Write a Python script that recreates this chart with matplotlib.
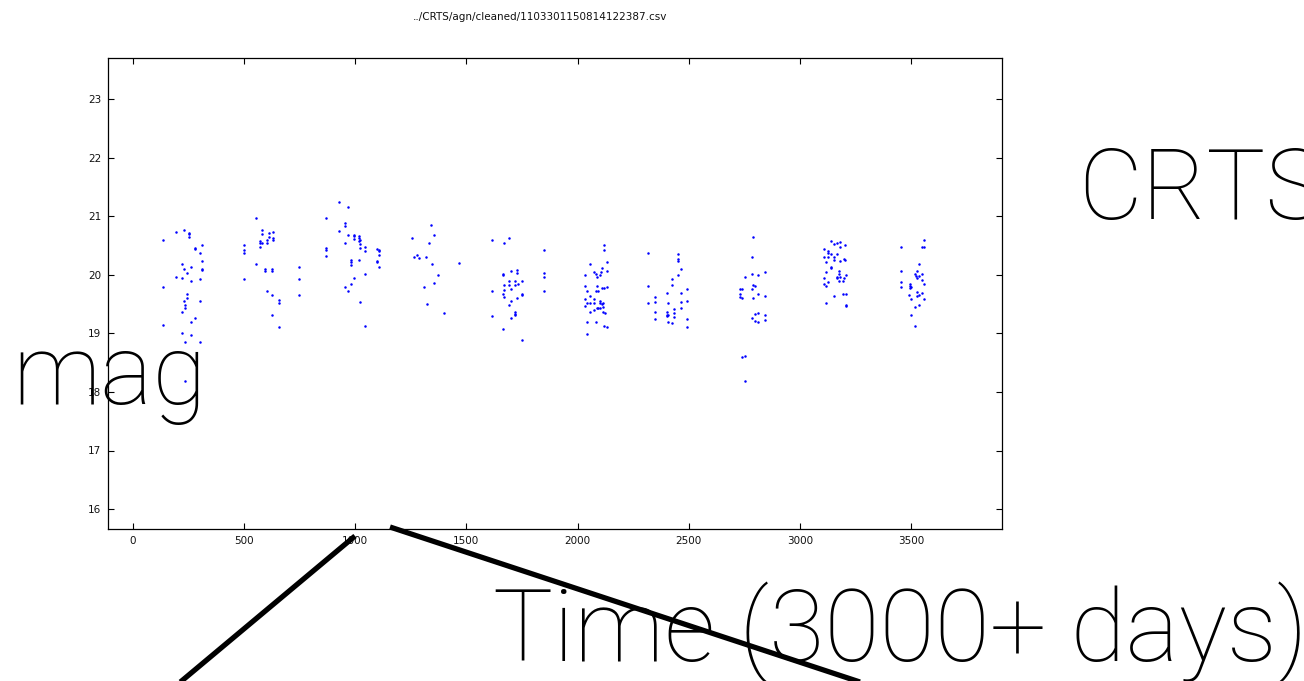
import numpy as np
import matplotlib.pyplot as plt
from matplotlib.lines import Line2D

s1_t = [136, 193, 228, 252, 252, 252, 278, 278, 309, 303, 309, 220, 260, 228, 309, 309, 244, 193, 220, 260,
        303, 136, 244, 244, 228, 303, 234, 234, 220, 278, 260, 136, 220, 260, 234, 303, 234]
s1_m = [20.60, 20.73, 20.76, 20.72, 20.69, 20.64, 20.45, 20.44, 20.51, 20.37, 20.24, 20.19, 20.13, 20.09, 20.10, 20.08,
        20.03, 19.96, 19.94, 19.89, 19.93, 19.79, 19.68, 19.60, 19.56, 19.56, 19.49, 19.43, 19.36, 19.27, 19.19, 19.14,
        19.00, 18.98, 18.85, 18.86, 18.19]

s2_t = [552, 498, 498, 498, 498, 552, 579, 579, 612, 631, 612, 631, 631, 604, 601, 570, 570, 579, 571, 595, 595, 625,
        625, 601, 625, 657, 657, 625, 657, 748, 748, 748]
s2_m = [20.97, 20.51, 20.42, 20.37, 19.93, 20.18, 20.76, 20.70, 20.71, 20.73, 20.65, 20.63, 20.60, 20.59, 20.55, 20.58,
        20.55, 20.55, 20.48, 20.10, 20.06, 20.09, 20.06, 19.72, 19.66, 19.57, 19.51, 19.31, 19.11, 20.13, 19.93, 19.66]

s3_t = [927, 966, 869, 954, 954, 927, 966, 994, 994, 1017, 1017, 994, 1022, 1017, 954, 1022, 1042, 1022, 1042, 869,
        869, 869, 1017, 979, 979, 979, 1098, 1107, 1107, 1107, 1098, 1098, 1107, 1042, 994, 979, 954, 966, 1022, 1042]
s3_m = [21.24, 21.16, 20.97, 20.88, 20.84, 20.74, 20.68, 20.68, 20.66, 20.66, 20.63, 20.61, 20.60, 20.58, 20.55, 20.53,
        20.47, 20.45, 20.40, 20.46, 20.43, 20.32, 20.26, 20.25, 20.21, 20.17, 20.44, 20.42, 20.40, 20.34, 20.23, 20.21,
        20.14, 20.01, 19.94, 19.84, 19.79, 19.72, 19.53, 19.12]

s4_t = [1339, 1353, 1256, 1331, 1265, 1279, 1288, 1318, 1345, 1466, 1373, 1353, 1309, 1322, 1399]
s4_m = [20.85, 20.68, 20.62, 20.55, 20.31, 20.34, 20.29, 20.31, 20.18, 20.20, 19.99, 19.86, 19.79, 19.50, 19.35]

s5_t = [1616, 1670, 1691, 1663, 1663, 1699, 1729, 1729, 1691, 1718, 1748, 1670, 1691, 1718, 1730, 1616, 1670, 1699,
        1663, 1670, 1748, 1748, 1729, 1699, 1691, 1718, 1718, 1718, 1616, 1699, 1663, 1748, 1847, 1847, 1847, 1847]
s5_m = [20.59, 20.54, 20.63, 20.02, 20.00, 20.07, 20.08, 20.03, 19.90, 19.89, 19.89, 19.82, 19.82, 19.83, 19.85, 19.72,
        19.74, 19.76, 19.68, 19.62, 19.68, 19.65, 19.60, 19.55, 19.48, 19.36, 19.33, 19.31, 19.29, 19.26, 19.08, 18.88,
        20.42, 20.03, 19.96, 19.73]

s6_t = [2119, 2119, 2133, 2054, 2108, 2075, 2084, 2106, 2133, 2101, 2033, 2088, 2033, 2088, 2110, 2117, 2133, 2043,
        2084, 2090, 2054, 2033, 2075, 2101, 2043, 2054, 2075, 2101, 2108, 2115, 2033, 2087, 2093, 2101, 2115, 2075,
        2054, 2115, 2122, 2043, 2083, 2119, 2133, 2043]
s6_m = [20.51, 20.42, 20.22, 20.19, 20.11, 20.05, 20.02, 20.05, 20.06, 20.00, 20.00, 19.96, 19.80, 19.81, 19.77, 19.78,
        19.79, 19.73, 19.72, 19.72, 19.64, 19.59, 19.59, 19.55, 19.52, 19.52, 19.52, 19.52, 19.50, 19.52, 19.46, 19.44,
        19.43, 19.44, 19.45, 19.40, 19.37, 19.36, 19.34, 19.20, 19.20, 19.12, 19.11, 18.99]

s7_t = [2316, 2316, 2316, 2451, 2451, 2451, 2466, 2451, 2426, 2426, 2491, 2401, 2466, 2348, 2348, 2408, 2466, 2491,
        2466, 2435, 2348, 2401, 2435, 2401, 2408, 2401, 2435, 2348, 2491, 2408, 2426, 2491]
s7_m = [20.37, 19.80, 19.52, 20.35, 20.27, 20.24, 20.10, 19.99, 19.92, 19.82, 19.75, 19.69, 19.69, 19.62, 19.54, 19.52,
        19.54, 19.55, 19.44, 19.42, 19.37, 19.36, 19.34, 19.32, 19.32, 19.29, 19.28, 19.24, 19.25, 19.19, 19.18, 19.10]

s8_t = [2790, 2784, 2751, 2784, 2813, 2844, 2790, 2796, 2730, 2739, 2784, 2730, 2730, 2739, 2790, 2813, 2844, 2796,
        2813, 2784, 2844, 2796, 2813, 2844, 2738, 2751, 2751]
s8_m = [20.64, 20.30, 19.97, 20.02, 20.00, 20.04, 19.83, 19.81, 19.75, 19.75, 19.76, 19.67, 19.62, 19.61, 19.61, 19.68,
        19.64, 19.33, 19.34, 19.27, 19.31, 19.21, 19.19, 19.23, 18.59, 18.61, 18.18]

s9_t = [3138, 3152, 3165, 3181, 3203, 3181, 3108, 3125, 3125, 3138, 3165, 3108, 3125, 3152, 3152, 3181, 3197, 3203,
        3117, 3138, 3138, 3117, 3176, 3176, 3208, 3165, 3165, 3181, 3197, 3108, 3192, 3176, 3108, 3125, 3117, 3195,
        3208, 3152, 3117, 3208, 3208]
s9_m = [20.58, 20.53, 20.55, 20.56, 20.51, 20.48, 20.44, 20.41, 20.37, 20.35, 20.35, 20.31, 20.30, 20.31, 20.26, 20.24,
        20.27, 20.26, 20.22, 20.14, 20.12, 20.05, 20.06, 20.01, 20.00, 19.96, 19.95, 19.96, 19.95, 19.94, 19.90, 19.89,
        19.85, 19.87, 19.81, 19.67, 19.67, 19.64, 19.51, 19.49, 19.47]

s10_t = [3557, 3549, 3557, 3456, 3535, 3456, 3528, 3517, 3521, 3535, 3549, 3528, 3549, 3456, 3495, 3495, 3501, 3495,
         3558, 3456, 3528, 3535, 3528, 3549, 3490, 3498, 3557, 3535, 3517, 3498, 3517]
s10_m = [20.60, 20.47, 20.47, 20.47, 20.19, 20.06, 20.07, 20.01, 19.98, 19.98, 20.01, 19.94, 19.91, 19.87, 19.85, 19.81,
         19.79, 19.78, 19.84, 19.79, 19.70, 19.66, 19.64, 19.69, 19.65, 19.59, 19.58, 19.48, 19.45, 19.32, 19.12]

temps = np.concatenate([s1_t, s2_t, s3_t, s4_t, s5_t, s6_t, s7_t, s8_t, s9_t, s10_t])
mags = np.concatenate([s1_m, s2_m, s3_m, s4_m, s5_m, s6_m, s7_m, s8_m, s9_m, s10_m])

x_ticks = [0, 500, 1000, 1500, 2000, 2500, 3000, 3500]
y_ticks = [16, 17, 18, 19, 20, 21, 22, 23]
titre = "../CRTS/agn/cleaned/1103301150814122387.csv"

# FIGURE

W, H = 1304, 681
fig = plt.figure(figsize=(W / 100, H / 100), dpi=100)
fig.patch.set_facecolor("white")

ax = fig.add_axes([108 / W, 1 - 529 / H, 894 / W, 471 / H])
ax.plot(temps, mags, ".", color="#0000ff", markersize=3.6, markeredgewidth=0)
ax.set_xlim(-112, 3909)
ax.set_ylim(15.66, 23.70)
ax.set_xticks(x_ticks)
ax.set_yticks(y_ticks)
ax.tick_params(direction="in", top=True, right=True, length=4, width=0.8,
               labelsize=7.5, labelcolor="#111111", pad=5)
for sp in ax.spines.values():
    sp.set_linewidth(0.9)

fig.text(540 / W, 1 - 17 / H, titre, ha="center", va="center", fontsize=7.5, color="#111111")

# annotations de la diapo
police = {"family": ["Roboto", "DejaVu Sans"], "weight": "light", "color": "black"}
fig.text(1078 / W, 1 - 219 / H, "CRTS", ha="left", va="baseline", fontsize=71, **police)
fig.text(12 / W, 1 - 404 / H, "mag", ha="left", va="baseline", fontsize=71, **police)
fig.text(493 / W, 1 - 661 / H, "Time (3000+ days)", ha="left", va="baseline", fontsize=72.5, **police)

fig.lines.append(Line2D([355 / W, 178 / W], [1 - 536 / H, 1 - 684 / H], transform=fig.transFigure,
                        color="black", linewidth=3.8, solid_capstyle="butt"))
fig.lines.append(Line2D([390 / W, 866 / W], [1 - 527 / H, 1 - 684 / H], transform=fig.transFigure,
                        color="black", linewidth=3.8, solid_capstyle="butt"))

plt.savefig("out.png", dpi=100)
print("Graphique sauvegarde")
